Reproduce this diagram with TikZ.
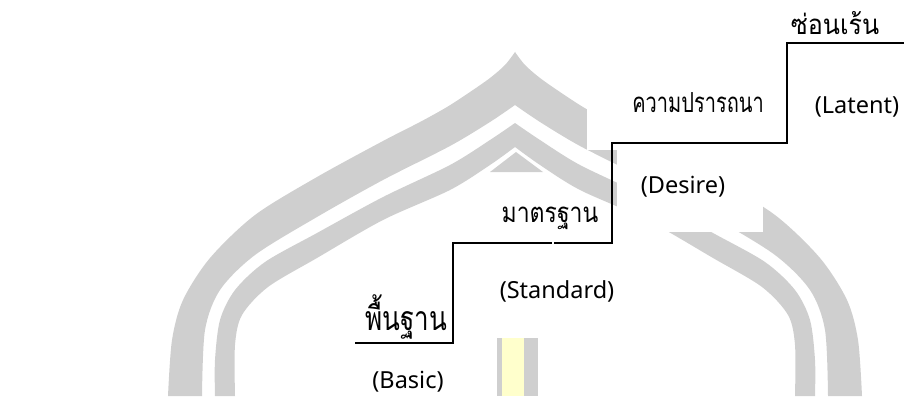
\documentclass[tikz,border=0pt]{standalone}
\usepackage{fontspec}
\setmainfont{Noto Sans}
\newfontfamily\thaifont[Script=Thai]{Loma}
\definecolor{wmgray}{RGB}{207,207,207}
\definecolor{wmyellow}{RGB}{255,255,204}

% one half of the arch emblem (left side); the right side is its mirror image
\newcommand\archhalf{%
  \fill[wmgray] plot[smooth] coordinates {(168,396) (172,340) (183,300) (210,258) (255,215) (317,177) (383,141) (420,122) (447,107) (470,92) (490,78) (505,65) (515,52)}
    -- (515,105)
    -- plot[smooth] coordinates {(515,105) (490,122) (450,146) (383,180) (317,217) (255,255) (220,290) (205,330) (202,396)} -- cycle;
  \fill[wmgray] plot[smooth] coordinates {(215,396) (215,360) (220,320) (235,290) (265,262) (317,233) (383,197) (450,165) (490,140) (515,123)}
    -- (515,147)
    -- plot[smooth] coordinates {(515,147) (490,165) (450,190) (383,220) (317,258) (268,287) (242,315) (235,345) (235,396)} -- cycle;
}
% Thai labels are set narrower/taller than the font draws them
\newcommand\thaibox[3]{\scalebox{#1}[#2]{#3}}

\begin{document}
\begin{tikzpicture}[x=1pt,y=-1pt,
  thai/.style={font={\thaifont\fontsize{23}{27}\selectfont}, anchor=base, inner sep=0pt},
  thaibig/.style={font={\thaifont\fontsize{26}{30}\selectfont}, anchor=base, inner sep=0pt},
  latin/.style={font={\fontsize{23.5}{28}\selectfont}, anchor=base, inner sep=0pt},
  stair/.style={line width=1.6pt, line join=miter}]
\useasboundingbox (0,0) rectangle (904,396);

% background emblem
\archhalf
\begin{scope}[shift={(1030,0)}, xscale=-1]
  \archhalf
\end{scope}
\fill[white] (587,0) rectangle (904,150);
\fill[white] (617,150) rectangle (763,232);
\fill[white] (763,150) rectangle (904,197);
\fill[wmgray] (516,152) -- (543,172) -- (490,172) -- cycle;
\fill[wmgray] (497,338) rectangle (538,396);
\fill[wmyellow] (502,338) rectangle (524,396);

% staircase (two strokes meeting on the second tread)
\coordinate (s0) at (355,343);
\coordinate (s1) at (453,343);
\coordinate (s2) at (453,243);
\coordinate (s2a) at (552,243);
\coordinate (s2b) at (554,243);
\coordinate (s3) at (612,243);
\coordinate (s4) at (612,143);
\coordinate (s5) at (787,143);
\coordinate (s6) at (787,43);
\coordinate (s7) at (904,43);
\draw[stair] (s0) -- (s1) -- (s2) -- (s2a);
\draw[stair] (s2b) -- (s3) -- (s4) -- (s5) -- (s6) -- (s7);

% level labels
\node[thai]    (latentth)   at (835,35)  {\thaibox{1.09}{1.2}{ซ่อนเร้น}};
\node[latin]   (latenten)   at (857,113) {(Latent)};
\node[thai]    (desireth)   at (698,112) {\thaibox{0.87}{1.2}{ความปรารถนา}};
\node[latin]   (desireen)   at (683,193) {(Desire)};
\node[thai]    (standardth) at (550,222) {\thaibox{1}{1.2}{มาตรฐาน}};
\node[latin]   (standarden) at (557,298) {(Standard)};
\node[thaibig] (basicth)    at (406,330) {\thaibox{1}{1.3}{พื้นฐาน}};
\node[latin]   (basicen)    at (408,388) {(Basic)};
\end{tikzpicture}
\end{document}
